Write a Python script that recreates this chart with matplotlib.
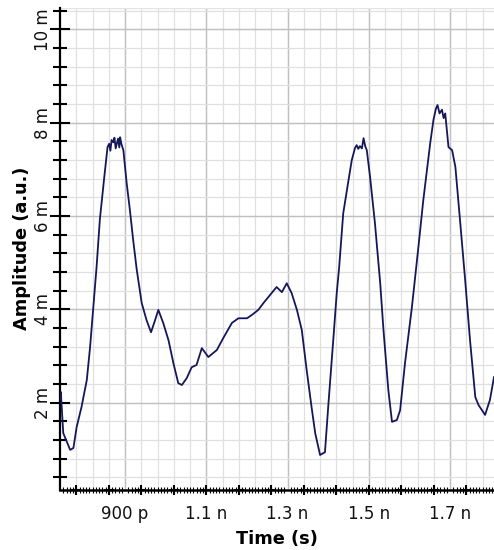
import matplotlib
matplotlib.use("Agg")
import matplotlib.pyplot as plt
from matplotlib.ticker import FixedLocator
import numpy as np

# time in ns, amplitude in mV
time_ns = [0.740, 0.742, 0.748, 0.765, 0.773, 0.781, 0.793, 0.806, 0.814, 0.822,
           0.830, 0.838, 0.849, 0.857, 0.861, 0.864, 0.867, 0.871, 0.874, 0.877,
           0.880, 0.883, 0.886, 0.888, 0.891, 0.896, 0.904, 0.912, 0.920, 0.929,
           0.941, 0.953, 0.964, 0.974, 0.982, 0.994, 1.007, 1.019, 1.031, 1.040,
           1.052, 1.064, 1.076, 1.089, 1.105, 1.126, 1.142, 1.163, 1.179, 1.200,
           1.212, 1.228, 1.241, 1.257, 1.273, 1.286, 1.298, 1.310, 1.323, 1.335,
           1.347, 1.359, 1.368, 1.380, 1.392, 1.400, 1.413, 1.421, 1.427, 1.437,
           1.450, 1.458, 1.466, 1.470, 1.474, 1.478, 1.483, 1.487, 1.491, 1.495,
           1.503, 1.515, 1.528, 1.536, 1.548, 1.557, 1.569, 1.577, 1.589, 1.606,
           1.622, 1.634, 1.651, 1.659, 1.665, 1.669, 1.674, 1.680, 1.684, 1.688,
           1.696, 1.705, 1.713, 1.725, 1.737, 1.749, 1.762, 1.770, 1.786, 1.798,
           1.808]
amp_mV = [2.06, 2.23, 1.35, 0.99, 1.03, 1.48, 1.91, 2.49, 3.19, 4.05,
          4.91, 5.92, 6.84, 7.48, 7.55, 7.40, 7.63, 7.58, 7.68, 7.45,
          7.56, 7.66, 7.47, 7.69, 7.55, 7.41, 6.71, 6.13, 5.49, 4.84,
          4.14, 3.77, 3.51, 3.77, 3.99, 3.71, 3.34, 2.85, 2.42, 2.38,
          2.53, 2.76, 2.81, 3.17, 2.98, 3.13, 3.39, 3.71, 3.81, 3.81,
          3.88, 3.99, 4.14, 4.31, 4.48, 4.37, 4.56, 4.35, 3.99, 3.56,
          2.70, 1.91, 1.35, 0.88, 0.94, 1.91, 3.41, 4.35, 4.91, 6.06,
          6.77, 7.20, 7.46, 7.52, 7.44, 7.50, 7.45, 7.67, 7.50, 7.41,
          6.84, 5.85, 4.56, 3.56, 2.27, 1.59, 1.63, 1.84, 2.85, 4.05,
          5.34, 6.34, 7.56, 8.06, 8.30, 8.38, 8.20, 8.28, 8.10, 8.20,
          7.48, 7.41, 7.05, 5.85, 4.63, 3.34, 2.12, 1.95, 1.74, 2.06,
          2.55]

x_label_ticks = [0.9, 1.1, 1.3, 1.5, 1.7]
x_label_texts = ["900 p", "1.1 n", "1.3 n", "1.5 n", "1.7 n"]
y_label_ticks = [2, 4, 6, 8, 10]
y_label_texts = ["2 m", "4 m", "6 m", "8 m", "10 m"]

plt.rcParams['font.family'] = ['DejaVu Sans']

fig = plt.figure(figsize=(4.94, 5.50), dpi=100)
ax = fig.add_axes([60/494, 60/550, 434/494, 482.5/550])

xmin, xmax = 0.740, 1.808
ymin, ymax = 0.13, 10.47
ax.set_xlim(xmin, xmax)
ax.set_ylim(ymin, ymax)

# grid
for gx in np.arange(0.78, 1.81, 0.04):
    ax.axvline(gx, color="#e0e0e0", lw=0.9, zorder=0)
for gx in x_label_ticks:
    ax.axvline(gx, color="#c0c0c0", lw=1.0, zorder=0)
for gy in np.arange(0.4, 10.5, 0.4):
    ax.axhline(gy, color="#e0e0e0", lw=0.9, zorder=0)
for gy in y_label_ticks:
    ax.axhline(gy, color="#c0c0c0", lw=1.0, zorder=0)
ax.axhline(ymax, color="#e4e4e4", lw=1.0, zorder=0)

ax.plot(time_ns, amp_mV, color="#16165a", lw=1.3, zorder=3)

for s in ["top", "right"]:
    ax.spines[s].set_visible(False)
ax.spines["left"].set_linewidth(1.6)
ax.spines["bottom"].set_linewidth(1.8)

# x ticks
ax.xaxis.set_major_locator(FixedLocator(x_label_ticks))
ax.set_xticklabels(x_label_texts)
ax.tick_params(axis="x", which="major", length=0, pad=10.5, labelsize=12,
               labelcolor="#111111")
ax.xaxis.set_minor_locator(FixedLocator(np.arange(0.748, 1.81, 0.008)))
ax.tick_params(axis="x", which="minor", direction="inout", length=4, width=0.8)
big_x = np.arange(0.78, 1.81, 0.08)
ax.plot(big_x, [ymin] * len(big_x), linestyle="none", marker="+", ms=7,
        mew=1.5, color="black", clip_on=False, zorder=5)

# y ticks
ax.yaxis.set_major_locator(FixedLocator(y_label_ticks))
ax.set_yticklabels(y_label_texts, rotation=90, va="center")
ax.tick_params(axis="y", which="major", direction="inout", length=15, width=1.5,
               pad=-1.5, labelsize=12, labelcolor="#111111")
ax.yaxis.set_minor_locator(FixedLocator([v for v in np.arange(0.4, 10.5, 0.4)
                                          if abs(v / 2 - round(v / 2)) > 1e-6]))
ax.tick_params(axis="y", which="minor", direction="inout", length=10, width=1.5)

ax.set_xlabel("Time (s)", fontsize=12.8, fontweight="bold", labelpad=5)
ax.set_ylabel("Amplitude (a.u.)", fontsize=12.8, fontweight="bold", labelpad=2)

fig.savefig("out.png", dpi=100)
